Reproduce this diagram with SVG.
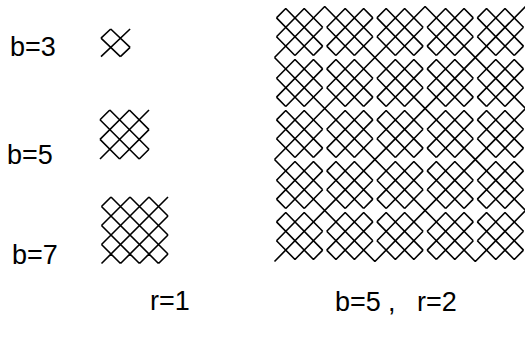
<svg xmlns="http://www.w3.org/2000/svg" xmlns:xlink="http://www.w3.org/1999/xlink" width="525" height="337" viewBox="0 0 525 337">
<style>
.ln{fill:none;stroke:#000;stroke-width:1.6;vector-effect:non-scaling-stroke}
.lbl{font-family:"Liberation Sans",Arial,sans-serif;font-size:27px;fill:#000}
</style>
<defs>
<path id="p3" class="ln" d="M-1 0L0 -1M-1 2L2 -1M1 2L2 1M-1 0L1 2M0 -1L2 1"/>
<path id="p5" class="ln" d="M-1 0L0 -1M-1 2L2 -1M-1 4L4 -1M1 4L4 1M3 4L4 3M-1 2L1 4M-1 0L3 4M0 -1L4 3M2 -1L4 1"/>
<path id="p7" class="ln" d="M-1 0L0 -1M-1 2L2 -1M-1 4L4 -1M-1 6L6 -1M1 6L6 1M3 6L6 3M5 6L6 5M-1 4L1 6M-1 2L3 6M-1 0L5 6M0 -1L6 5M2 -1L6 3M4 -1L6 1"/>
<path id="blk" class="ln" d="M-1 0L0 -1M-1 2L2 -1M1 4L4 1M3 4L4 3M-1 2L1 4M-1 0L3 4M0 -1L4 3M2 -1L4 1"/>
</defs>
<rect width="525" height="337" fill="#fff"/>
<g id="labels">
<text class="lbl" x="10" y="56">b=3</text>
<text class="lbl" x="7" y="164">b=5</text>
<text class="lbl" x="12" y="264">b=7</text>
<text class="lbl" x="150" y="310">r=1</text>
<text class="lbl" y="311"><tspan x="335">b=5</tspan><tspan x="388">,</tspan><tspan x="417">r=2</tspan></text>
</g>
<g id="pattern-b3"><use xlink:href="#p3" href="#p3" transform="translate(110.7 38.2) scale(9.7 9.2)"/></g>
<g id="pattern-b5"><use href="#p5" transform="translate(109.8 119.8) scale(9.8)"/></g>
<g id="pattern-b7"><use href="#p7" transform="translate(111 206.5) scale(9.5)"/></g>
<g id="pattern-b5-r2">
<g id="blocks">
<use href="#blk" transform="translate(285.74 17.9) scale(9.24 9.4)"/>
<use href="#blk" transform="translate(363.66 17.9) scale(-9.24 9.4)"/>
<use href="#blk" transform="translate(386.14 17.9) scale(9.24 9.4)"/>
<use href="#blk" transform="translate(464.06 17.9) scale(-9.24 9.4)"/>
<use href="#blk" transform="translate(486.54 17.9) scale(9.24 9.4)"/>
<use href="#blk" transform="translate(313.46 68.9) scale(-9.24 9.4)"/>
<use href="#blk" transform="translate(335.94 68.9) scale(9.24 9.4)"/>
<use href="#blk" transform="translate(413.86 68.9) scale(-9.24 9.4)"/>
<use href="#blk" transform="translate(436.34 68.9) scale(9.24 9.4)"/>
<use href="#blk" transform="translate(514.26 68.9) scale(-9.24 9.4)"/>
<use href="#blk" transform="translate(285.74 119.9) scale(9.24 9.4)"/>
<use href="#blk" transform="translate(363.66 119.9) scale(-9.24 9.4)"/>
<use href="#blk" transform="translate(386.14 119.9) scale(9.24 9.4)"/>
<use href="#blk" transform="translate(464.06 119.9) scale(-9.24 9.4)"/>
<use href="#blk" transform="translate(486.54 119.9) scale(9.24 9.4)"/>
<use href="#blk" transform="translate(313.46 170.9) scale(-9.24 9.4)"/>
<use href="#blk" transform="translate(335.94 170.9) scale(9.24 9.4)"/>
<use href="#blk" transform="translate(413.86 170.9) scale(-9.24 9.4)"/>
<use href="#blk" transform="translate(436.34 170.9) scale(9.24 9.4)"/>
<use href="#blk" transform="translate(514.26 170.9) scale(-9.24 9.4)"/>
<use href="#blk" transform="translate(285.74 221.9) scale(9.24 9.4)"/>
<use href="#blk" transform="translate(363.66 221.9) scale(-9.24 9.4)"/>
<use href="#blk" transform="translate(386.14 221.9) scale(9.24 9.4)"/>
<use href="#blk" transform="translate(464.06 221.9) scale(-9.24 9.4)"/>
<use href="#blk" transform="translate(486.54 221.9) scale(9.24 9.4)"/>
</g>
<path id="diagonals" class="ln" d="M274.5 57.5L324.7 6.5M274.5 159.5L425.1 6.5M274.5 261.5L525.5 6.5M374.9 261.5L525.5 108.5M475.3 261.5L525.5 210.5M274.5 159.5L374.9 261.5M274.5 57.5L475.3 261.5M324.7 6.5L525.5 210.5M425.1 6.5L525.5 108.5"/>
</g>
</svg>
